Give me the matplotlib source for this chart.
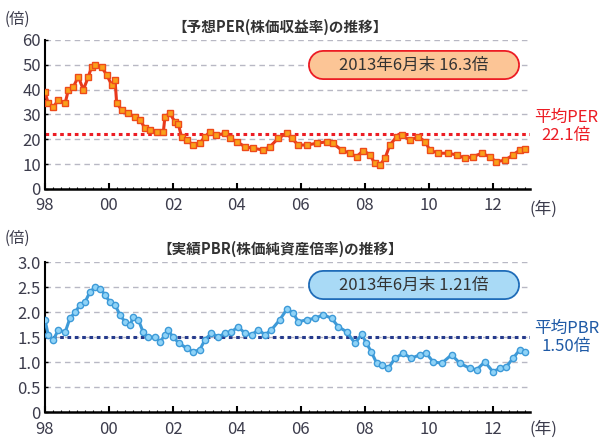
import numpy as np
import matplotlib
matplotlib.use("Agg")
import matplotlib.pyplot as plt
from matplotlib.lines import Line2D

plt.rcParams["font.family"] = ["Noto Sans CJK JP", "DejaVu Sans"]

# 予想PER (倍)
per_year = [1998.0, 1998.1, 1998.26, 1998.42, 1998.63, 1998.73, 1998.89, 1999.04, 1999.2, 1999.35,
            1999.46, 1999.56, 1999.77, 1999.93, 2000.08, 2000.19, 2000.24, 2000.4, 2000.6, 2000.81,
            2000.97, 2001.13, 2001.28, 2001.49, 2001.7, 2001.75, 2001.9, 2002.06, 2002.17, 2002.27,
            2002.43, 2002.63, 2002.84, 2003.0, 2003.16, 2003.36, 2003.63, 2003.78, 2003.99, 2004.25,
            2004.51, 2004.82, 2005.03, 2005.29, 2005.55, 2005.71, 2005.92, 2006.18, 2006.49, 2006.8,
            2007.0, 2007.27, 2007.53, 2007.74, 2007.95, 2008.16, 2008.31, 2008.47, 2008.63, 2008.78,
            2008.99, 2009.15, 2009.4, 2009.67, 2009.88, 2010.03, 2010.29, 2010.6, 2010.87, 2011.13,
            2011.38, 2011.65, 2011.9, 2012.1, 2012.38, 2012.63, 2012.84, 2013.0]
per_val = [39.2, 34.5, 33.0, 35.8, 34.5, 39.9, 41.2, 45.2, 40.0, 45.0,
           49.3, 50.0, 49.0, 46.0, 42.0, 44.0, 34.6, 31.8, 30.5, 29.1,
           27.8, 24.4, 23.8, 23.1, 23.0, 29.1, 30.5, 27.1, 26.0, 21.0,
           19.7, 17.7, 18.5, 21.0, 23.1, 21.7, 22.4, 20.4, 19.1, 17.0,
           16.4, 15.7, 17.0, 20.4, 22.4, 20.4, 17.7, 17.7, 18.4, 19.0,
           18.4, 15.7, 14.4, 13.0, 15.5, 13.7, 10.3, 9.7, 12.4, 17.7,
           21.0, 21.7, 19.7, 21.0, 19.1, 15.7, 14.4, 14.4, 13.7, 12.4,
           13.0, 14.4, 13.0, 11.0, 11.6, 13.7, 15.7, 16.3]

# 実績PBR (倍)
pbr_year = [1998.0, 1998.1, 1998.26, 1998.42, 1998.63, 1998.78, 1998.94, 1999.1, 1999.25, 1999.4,
            1999.56, 1999.72, 1999.88, 2000.03, 2000.19, 2000.34, 2000.5, 2000.66, 2000.76, 2000.92,
            2001.07, 2001.23, 2001.44, 2001.6, 2001.75, 2001.85, 2002.0, 2002.2, 2002.43, 2002.63,
            2002.84, 2003.0, 2003.2, 2003.42, 2003.63, 2003.83, 2004.04, 2004.25, 2004.46, 2004.67,
            2004.88, 2005.08, 2005.34, 2005.57, 2005.76, 2005.92, 2006.18, 2006.44, 2006.7, 2006.96,
            2007.17, 2007.43, 2007.69, 2007.9, 2008.05, 2008.2, 2008.37, 2008.52, 2008.73, 2008.94,
            2009.2, 2009.45, 2009.72, 2009.92, 2010.13, 2010.4, 2010.71, 2010.97, 2011.28, 2011.49,
            2011.75, 2012.0, 2012.22, 2012.42, 2012.63, 2012.84, 2013.0]
pbr_val = [1.85, 1.55, 1.45, 1.65, 1.60, 1.88, 2.00, 2.15, 2.20, 2.40,
           2.50, 2.47, 2.35, 2.20, 2.15, 1.95, 1.81, 1.75, 1.90, 1.85,
           1.60, 1.50, 1.50, 1.41, 1.55, 1.65, 1.50, 1.38, 1.28, 1.21,
           1.25, 1.45, 1.58, 1.51, 1.58, 1.61, 1.71, 1.58, 1.55, 1.65,
           1.55, 1.65, 1.85, 2.07, 1.98, 1.81, 1.85, 1.88, 1.95, 1.88,
           1.71, 1.61, 1.38, 1.56, 1.38, 1.21, 0.98, 0.95, 0.88, 1.08,
           1.18, 1.08, 1.15, 1.18, 1.01, 0.98, 1.15, 0.98, 0.88, 0.85,
           1.01, 0.81, 0.88, 0.91, 1.08, 1.25, 1.21]

year_ticks = [1998, 2000, 2002, 2004, 2006, 2008, 2010, 2012]
year_labels = ["98", "00", "02", "04", "06", "08", "10", "12"]
per_ticks = [0, 10, 20, 30, 40, 50, 60]
pbr_ticks = [0, 0.5, 1.0, 1.5, 2.0, 2.5, 3.0]
pbr_tick_labels = ["0", "0.5", "1.0", "1.5", "2.0", "2.5", "3.0"]
per_avg = 22.1
pbr_avg = 1.50

fig = plt.figure(figsize=(6.07, 4.38), dpi=100)
ax1 = fig.add_axes([0.0741, 0.5685, 0.799, 0.3402])
ax2 = fig.add_axes([0.0741, 0.0587, 0.799, 0.3425])

tick_color = "#3c3c4c"
inch = fig.dpi_scale_trans  # 1 unit = 1 inch = 100 px


def styleAxis(ax, ticks, labels, ylim):
    ax.set_xlim(1998, 2013.16)
    ax.set_ylim(*ylim)
    for s in ["top", "right"]:
        ax.spines[s].set_visible(False)
    ax.spines["left"].set_linewidth(1.5)
    ax.spines["bottom"].set_linewidth(1.8)
    ax.set_xticks(year_ticks)
    ax.set_xticklabels(year_labels)
    ax.set_xticks(np.arange(1998, 2013.2, 0.25), minor=True)
    ax.set_yticks(ticks)
    ax.set_yticklabels(labels)
    ax.tick_params(axis="x", direction="in", length=4, width=1.5, labelsize=12,
                   labelcolor=tick_color, pad=6)
    ax.tick_params(axis="x", which="minor", direction="in", length=1.5, width=0.8)
    ax.tick_params(axis="y", direction="in", length=2, width=1, labelsize=12,
                   labelcolor=tick_color, pad=3)
    for t in ticks[1:]:
        ax.axhline(t, color="#b8b8c4", lw=1, ls=(0, (4, 3)), zorder=0)


def pillBox(x0, x1, yc, h, fc, ec, label):
    # 丸いラベル枠: 太い線の丸キャップで描く
    h_pt = h * 72
    edge = Line2D([x0 + h / 2, x1 - h / 2], [yc, yc], transform=inch, lw=h_pt,
                  color=ec, solid_capstyle="round", zorder=5)
    face = Line2D([x0 + h / 2, x1 - h / 2], [yc, yc], transform=inch, lw=h_pt - 2.6,
                  color=fc, solid_capstyle="round", zorder=5)
    fig.add_artist(edge)
    fig.add_artist(face)
    fig.text((x0 + x1) / 2, yc, label, transform=inch, fontsize=12,
             color="#333333", ha="center", va="center", zorder=6)


styleAxis(ax1, per_ticks, [str(t) for t in per_ticks], (0, 60))
styleAxis(ax2, pbr_ticks, pbr_tick_labels, (0, 3.0))

# PER
ax1.axhline(per_avg, color="#ec1c24", lw=2.2, ls=(0, (1.2, 1.2)), zorder=2)
ax1.plot(per_year, per_val, color="#e8381c", lw=2.2, marker="s", ms=4.5,
         mfc="#f9a01b", mec="#ee4a1a", mew=1, zorder=3)
ax1.text(1.075, 0.42, "平均PER\n22.1倍", transform=ax1.transAxes, color="#ec1c24",
         fontsize=12, ha="center", va="center", linespacing=1.1)
ax1.text(0.485, 1.09, "【予想PER(株価収益率)の推移】", transform=ax1.transAxes,
         fontsize=10.5, fontweight="bold", color="#333333", ha="center", va="center")
ax1.text(1.0, -0.135, "(年)", transform=ax1.transAxes, fontsize=12,
         color=tick_color, ha="left", va="center")
fig.text(0.008, 0.957, "(倍)", fontsize=11, color=tick_color, ha="left", va="center")
pillBox(3.08, 5.20, 3.73, 0.30, "#fcc596", "#ec1c24", "2013年6月末 16.3倍")

# PBR
ax2.axhline(pbr_avg, color="#253a8c", lw=2.2, ls=(0, (1.2, 1.2)), zorder=2)
ax2.plot(pbr_year, pbr_val, color="#3d9ad8", lw=2.2, marker="o", ms=4.5,
         mfc="#8fd3f7", mec="#3d9ad8", mew=1, zorder=3)
ax2.text(1.075, 0.5, "平均PBR\n1.50倍", transform=ax2.transAxes, color="#1f5aa6",
         fontsize=12, ha="center", va="center", linespacing=1.1)
ax2.text(0.485, 1.09, "【実績PBR(株価純資産倍率)の推移】", transform=ax2.transAxes,
         fontsize=10.5, fontweight="bold", color="#333333", ha="center", va="center")
ax2.text(1.0, -0.115, "(年)", transform=ax2.transAxes, fontsize=12,
         color=tick_color, ha="left", va="center")
fig.text(0.008, 0.455, "(倍)", fontsize=11, color=tick_color, ha="left", va="center")
pillBox(3.08, 5.20, 1.53, 0.30, "#a9daf6", "#1f6cb8", "2013年6月末 1.21倍")

fig.savefig("out.png", dpi=100)
